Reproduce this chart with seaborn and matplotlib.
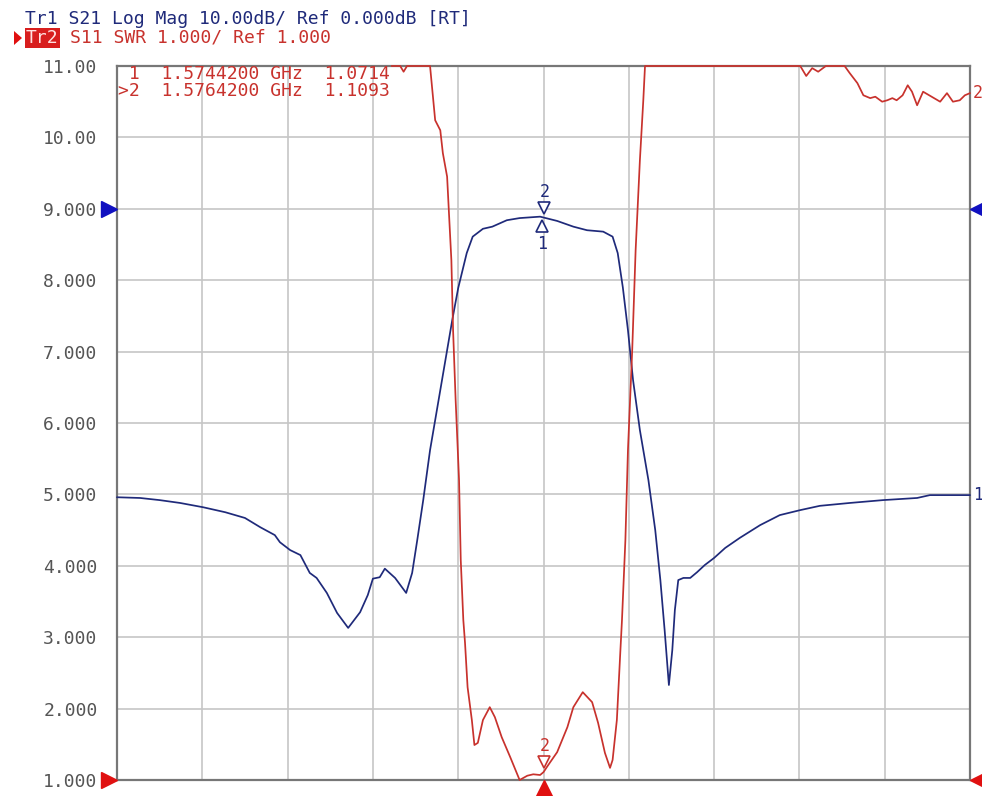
import numpy as np
import pandas as pd
import matplotlib
matplotlib.use("Agg")
import matplotlib.pyplot as plt
from matplotlib.transforms import offset_copy
from matplotlib.patches import Polygon
import seaborn as sns

# ---------------- data (x in grid divisions 0..10, y in SWR-scale units) -------------
s21_x = [0.00, 0.27, 0.50, 0.74, 1.01, 1.27, 1.50, 1.68, 1.85, 1.91, 2.03, 2.15, 2.26, 2.34,
         2.46, 2.58, 2.71, 2.85, 2.94, 3.00, 3.08, 3.14, 3.26, 3.39, 3.46, 3.52, 3.59, 3.67,
         3.75, 3.85, 3.93, 4.00, 4.10, 4.17, 4.29, 4.40, 4.57, 4.72, 4.96, 5.16, 5.35, 5.51,
         5.70, 5.81, 5.87, 5.93, 5.99, 6.05, 6.13, 6.23, 6.31, 6.37, 6.42, 6.47, 6.51, 6.54,
         6.58, 6.64, 6.72, 6.80, 6.89, 7.00, 7.13, 7.30, 7.54, 7.77, 8.01, 8.24, 8.59, 8.98,
         9.38, 9.53, 10.00]
s21_y = [4.96, 4.95, 4.92, 4.88, 4.82, 4.75, 4.67, 4.54, 4.43, 4.33, 4.22, 4.15, 3.90, 3.83,
         3.62, 3.34, 3.13, 3.35, 3.59, 3.82, 3.84, 3.96, 3.83, 3.62, 3.90, 4.36, 4.92, 5.62,
         6.18, 6.88, 7.44, 7.89, 8.38, 8.61, 8.72, 8.75, 8.84, 8.87, 8.89, 8.83, 8.75, 8.70,
         8.68, 8.61, 8.38, 7.90, 7.30, 6.60, 5.90, 5.20, 4.50, 3.80, 3.10, 2.33, 2.82, 3.38,
         3.80, 3.83, 3.83, 3.91, 4.01, 4.11, 4.25, 4.39, 4.57, 4.71, 4.78, 4.84, 4.88, 4.92,
         4.95, 4.99, 4.99]

s11_x = [3.22, 3.32, 3.36, 3.40, 3.67, 3.70, 3.73, 3.79, 3.82, 3.87, 3.89, 3.92, 3.94, 3.97,
         4.01, 4.03, 4.06, 4.08, 4.11, 4.16, 4.19, 4.23, 4.29, 4.37, 4.43, 4.51, 4.61, 4.72,
         4.81, 4.88, 4.96, 5.00, 5.05, 5.16, 5.28, 5.35, 5.46, 5.57, 5.64, 5.72, 5.78, 5.81,
         5.86, 5.90, 5.92, 5.96, 5.99, 6.04, 6.08, 6.13, 6.17, 6.19, 8.01, 8.08, 8.15, 8.22,
         8.31, 8.53, 8.59, 8.68, 8.75, 8.83, 8.89, 8.97, 9.03, 9.09, 9.14, 9.21, 9.27, 9.32,
         9.38, 9.45, 9.55, 9.65, 9.73, 9.80, 9.88, 9.94, 10.00]
s11_y = [11.0, 11.0, 10.92, 11.0, 11.0, 10.62, 10.24, 10.10, 9.78, 9.45, 8.98, 8.28, 7.30, 6.32,
         5.20, 4.08, 3.24, 2.92, 2.30, 1.84, 1.49, 1.52, 1.84, 2.02, 1.88, 1.60, 1.32, 1.00,
         1.06, 1.08, 1.07, 1.11, 1.20, 1.39, 1.74, 2.02, 2.23, 2.09, 1.80, 1.38, 1.17, 1.28,
         1.84, 2.78, 3.24, 4.36, 5.62, 7.02, 8.42, 9.68, 10.52, 11.0, 11.0, 10.86, 10.97, 10.92,
         11.0, 11.0, 10.90, 10.76, 10.59, 10.55, 10.57, 10.50, 10.52, 10.55, 10.52, 10.59, 10.73,
         10.64, 10.45, 10.64, 10.57, 10.50, 10.62, 10.50, 10.52, 10.59, 10.62]

ytick_vals = [1, 2, 3, 4, 5, 6, 7, 8, 9, 10, 11]
ytick_labels = ["1.000", "2.000", "3.000", "4.000", "5.000", "6.000", "7.000",
                "8.000", "9.000", "10.00", "11.00"]

header1 = "Tr1 S21 Log Mag 10.00dB/ Ref 0.000dB [RT]"
header2_tag = "Tr2"
header2 = "S11 SWR 1.000/ Ref 1.000"
readout = [" 1  1.5744200 GHz  1.0714", ">2  1.5764200 GHz  1.1093"]

s21_mk1 = (4.98, 8.89)
s21_mk2 = (5.00, 8.89)
s11_mk2 = (5.00, 1.11)

# ---------------- styling ----------------
sns.set_style("white")
plt.rcParams['font.family'] = ['DejaVu Sans Mono', 'DejaVu Sans']

BLUE = "#1f2a7a"
RED = "#c8322d"
GRID = "#c6c6c6"
FS = 13

fig = plt.figure(figsize=(9.82, 7.96), dpi=100)
ax = fig.add_axes([117 / 982, 16 / 796, 853 / 982, 714 / 796])

df21 = pd.DataFrame({"x": s21_x, "y": s21_y})
df11 = pd.DataFrame({"x": s11_x, "y": s11_y})
sns.lineplot(data=df21, x="x", y="y", sort=False, estimator=None, color=BLUE, lw=1.25, ax=ax)
sns.lineplot(data=df11, x="x", y="y", sort=False, estimator=None, color=RED, lw=1.25, ax=ax)
for ln in ax.get_lines():
    ln.set_clip_on(False)
    ln.set_zorder(4)

ax.set_xlim(0, 10)
ax.set_ylim(1, 11)
ax.set_xticks(range(11))
ax.set_yticks(ytick_vals)
ax.set_yticklabels(ytick_labels, fontsize=FS, color="#555555")
ax.tick_params(axis="x", length=0, labelbottom=False)
ax.tick_params(axis="y", length=0, pad=14)
ax.grid(True, color=GRID, lw=1.2)
ax.set_axisbelow(True)
ax.set_xlabel("")
ax.set_ylabel("")
for sp in ax.spines.values():
    sp.set_color("#777777")
    sp.set_linewidth(1.6)
    sp.set_zorder(3)

def off(dx, dy):
    return offset_copy(ax.transData, fig=fig, x=dx, y=dy, units="points")

# marker triangles
ax.plot(*s21_mk2, marker="v", ms=9, mfc="white", mec=BLUE, mew=1.2, transform=off(0, 6), zorder=6, clip_on=False)
ax.text(*s21_mk2, "2", transform=off(1, 18), color=BLUE, fontsize=12, ha="center", va="center", zorder=6)
ax.plot(*s21_mk1, marker="^", ms=9, mfc="white", mec=BLUE, mew=1.2, transform=off(0, -7), zorder=6, clip_on=False)
ax.text(*s21_mk1, "1", transform=off(0, -20), color=BLUE, fontsize=12, ha="center", va="center", zorder=6)
ax.plot(*s11_mk2, marker="v", ms=9, mfc="white", mec=RED, mew=1.2, transform=off(0, 7), zorder=6, clip_on=False)
ax.text(*s11_mk2, "2", transform=off(1, 19), color=RED, fontsize=12, ha="center", va="center", zorder=6)

# reference-position triangles
ax.plot(0, 9, marker=">", ms=11, color="#1010c0", transform=off(-5.5, 0), clip_on=False, zorder=7)
ax.plot(10, 9, marker="<", ms=11, color="#1010c0", transform=off(5.5, 0), clip_on=False, zorder=7)
ax.plot(0, 1, marker=">", ms=11, color="#e01010", transform=off(-5.5, 0), clip_on=False, zorder=7)
ax.plot(10, 1, marker="<", ms=11, color="#e01010", transform=off(5.5, 0), clip_on=False, zorder=7)
ax.plot(5, 1, marker="^", ms=12, color="#e01010", transform=off(0, -6), clip_on=False, zorder=7)

# trace end labels
ax.annotate("1", xy=(s21_x[-1], s21_y[-1]), xytext=(2, 0), textcoords="offset points",
            color=BLUE, fontsize=12, va="center", ha="left", annotation_clip=False)
ax.annotate("2", xy=(s11_x[-1], s11_y[-1]), xytext=(2, 0), textcoords="offset points",
            color=RED, fontsize=12, va="center", ha="left", annotation_clip=False)

# marker readout
ax.text(0.001, 1 - 8 / 714, readout[0], transform=ax.transAxes, color=RED, fontsize=FS,
        va="center", ha="left", zorder=8)
ax.text(0.001, 1 - 25 / 714, readout[1], transform=ax.transAxes, color=RED, fontsize=FS,
        va="center", ha="left", zorder=8)

# header
fig.text(25 / 982, 1 - 19 / 796, header1, color=BLUE, fontsize=FS, va="center", ha="left")
tag = fig.text(26 / 982, 1 - 38 / 796, header2_tag, color="#ffe0e0", fontsize=FS, va="center", ha="left",
               bbox=dict(boxstyle="square,pad=0.05", fc="#d81e1e", ec="none"))
fig.canvas.draw()
bb = tag.get_window_extent()
fig.text((bb.x1 + 11) / 982, 1 - 38 / 796, header2, color=RED, fontsize=FS, va="center", ha="left")
fig.add_artist(Polygon([[14 / 982, 1 - 31 / 796], [14 / 982, 1 - 45 / 796], [22 / 982, 1 - 38 / 796]],
                       closed=True, transform=fig.transFigure, fc="#e01010", ec="none"))

fig.savefig("out.png", dpi=100, facecolor="white")
